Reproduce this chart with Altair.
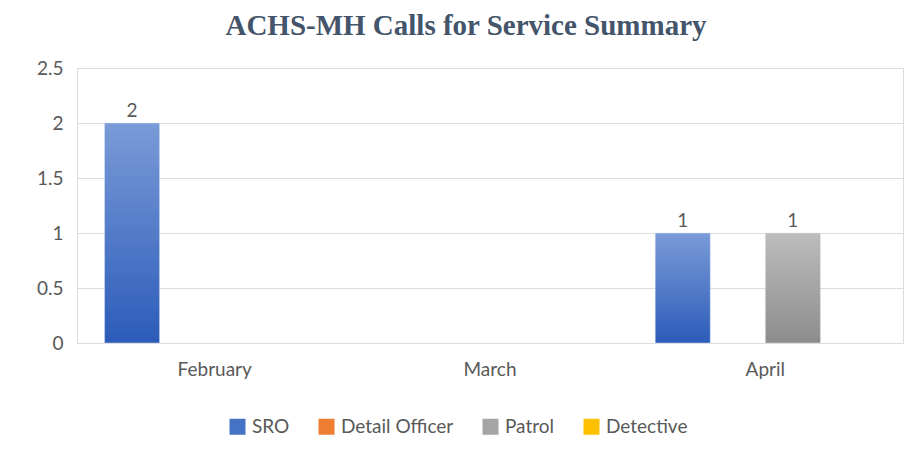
import altair as alt
import pandas as pd

months = ["February", "March", "April"]
series = ["SRO", "Detail Officer", "Patrol", "Detective"]
sro = [2, 0, 1]
detail_officer = [0, 0, 0]
patrol = [0, 0, 1]
detective = [0, 0, 0]
colors = ["#4472c4", "#ed7d31", "#a5a5a5", "#ffc000"]

rows = []
for s, vals in zip(series, [sro, detail_officer, patrol, detective]):
    for m, v in zip(months, vals):
        rows.append({"month": m, "series": s, "value": v})
df = pd.DataFrame(rows)

grad_sro = {"gradient": "linear", "x1": 0, "y1": 0, "x2": 0, "y2": 1,
            "stops": [{"offset": 0, "color": "#7a9bd8"}, {"offset": 1, "color": "#2c5cb9"}]}
grad_patrol = {"gradient": "linear", "x1": 0, "y1": 0, "x2": 0, "y2": 1,
               "stops": [{"offset": 0, "color": "#bdbdbd"}, {"offset": 1, "color": "#8c8c8c"}]}

TXT = "#595959"
FONT = "Lato"

base = alt.Chart(df).encode(
    x=alt.X("month:N", sort=months, title=None,
            scale=alt.Scale(domain=months, paddingInner=0, paddingOuter=0),
            axis=alt.Axis(labelAngle=0, labelPadding=17, ticks=False, domain=False,
                          labelFontSize=19, labelColor=TXT, labelFont=FONT)),
    xOffset=alt.XOffset("series:N", sort=series,
                        scale=alt.Scale(domain=series, paddingInner=0, paddingOuter=0.5)),
)

color_enc = alt.Color(
    "series:N", sort=series,
    scale=alt.Scale(domain=series, range=colors),
    legend=alt.Legend(title=None, orient="none", direction="horizontal",
                      legendX=151, legendY=349, padding=0,
                      symbolType="square", symbolSize=256,
                      symbolStrokeWidth=0, labelFontSize=19,
                      labelColor=TXT, labelFont=FONT,
                      columnPadding=27, labelOffset=5),
    condition=[
        {"test": "datum.series === 'SRO'", "value": grad_sro},
        {"test": "datum.series === 'Patrol'", "value": grad_patrol},
    ],
)

bars = base.mark_bar(stroke="#dde6f5", strokeWidth=0.6, strokeOpacity=0.8).encode(
    y=alt.Y("value:Q", title=None,
            scale=alt.Scale(domain=[0, 2.5], nice=False),
            axis=alt.Axis(values=[0, 0.5, 1, 1.5, 2, 2.5], format="~g", ticks=False, domain=False,
                          labelPadding=14, labelFontSize=19, labelColor=TXT,
                          labelFont=FONT, gridColor="#dcdcdc", gridWidth=1.2)),
    color=color_enc,
).transform_filter(alt.datum.value > 0)

labels = base.mark_text(dy=-6, fontSize=19, color=TXT, font=FONT, baseline="alphabetic").encode(
    y=alt.Y("value:Q"),
    text=alt.Text("value:Q"),
).transform_filter(alt.datum.value > 0)

chart = alt.layer(bars, labels).properties(
    width=826, height=275,
    title=alt.Title("ACHS-MH Calls for Service Summary", font="Liberation Serif",
                    fontSize=29, fontWeight="bold", color="#44546a", offset=18, dx=-24),
    padding={"left": 28, "top": 4, "right": 3, "bottom": 5},
).configure_view(stroke=None).configure(background="white")

chart.save("out.html", embed_options={"renderer": "svg", "actions": False})
